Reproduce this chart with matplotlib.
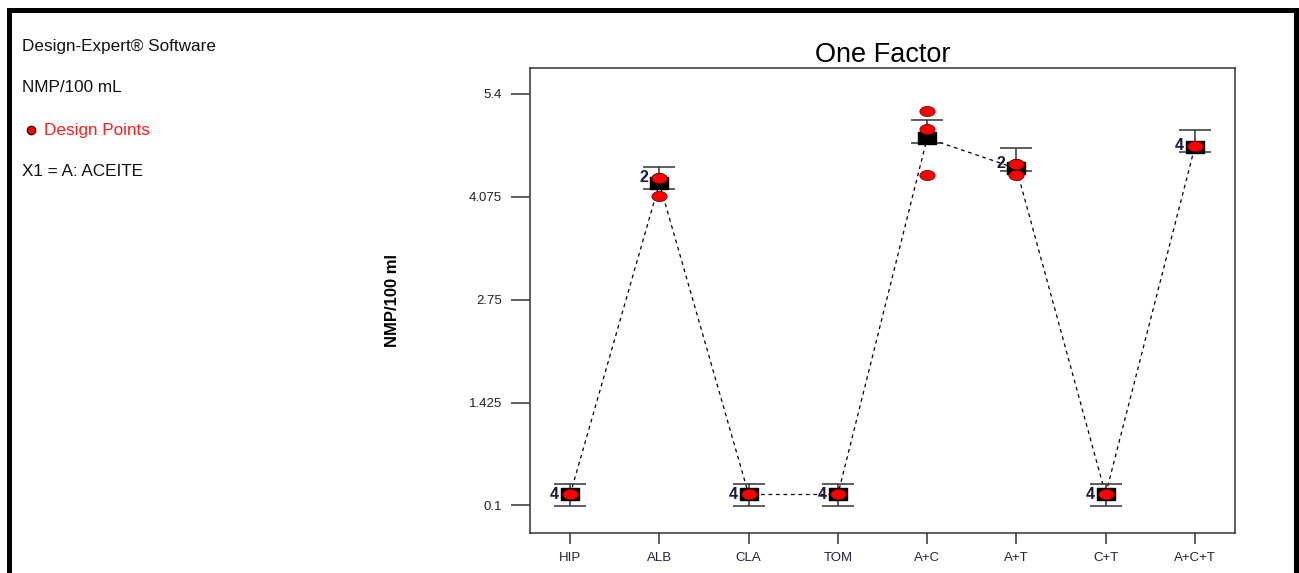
import matplotlib
matplotlib.use("Agg")
import matplotlib.pyplot as plt
from matplotlib.lines import Line2D
from matplotlib.path import Path
from matplotlib.transforms import Affine2D

plt.rcParams["font.family"] = ["Liberation Sans", "DejaVu Sans"]

# --- data ---
categories = ["HIP", "ALB", "CLA", "TOM", "A+C", "A+T", "C+T", "A+C+T"]
means = [0.24, 4.25, 0.24, 0.24, 4.83, 4.44, 0.24, 4.72]
lsd_low = [0.09, 4.18, 0.09, 0.09, 4.77, 4.41, 0.09, 4.65]
lsd_high = [0.38, 4.46, 0.38, 0.38, 5.06, 4.70, 0.38, 4.94]
design_points = [
    [0.24, 0.24, 0.24, 0.24],
    [4.32, 4.32, 4.09],
    [0.24, 0.24, 0.24, 0.24],
    [0.24, 0.24, 0.24, 0.24],
    [5.18, 4.95, 4.36],
    [4.50, 4.50, 4.35],
    [0.24, 0.24, 0.24, 0.24],
    [4.73, 4.73, 4.73, 4.73],
]
# (category index, value, count) for stacked points
point_counts = [(0, 0.24, 4), (1, 4.32, 2), (2, 0.24, 4), (3, 0.24, 4),
                (5, 4.50, 2), (6, 0.24, 4), (7, 4.73, 4)]
yticks = [0.1, 1.425, 2.75, 4.075, 5.4]
ytick_labels = ["0.1", "1.425", "2.75", "4.075", "5.4"]

W, H = 1299, 573
fig = plt.figure(figsize=(W / 100, H / 100), dpi=100)
ax = fig.add_axes([530 / W, 1 - 533 / H, 705 / W, 465 / H])

ellipse = Path.unit_circle().transformed(Affine2D().scale(1.5, 1.0))
box = Path([(-1.5, -1), (1.5, -1), (1.5, 1), (-1.5, 1), (-1.5, -1)],
           [Path.MOVETO, Path.LINETO, Path.LINETO, Path.LINETO, Path.CLOSEPOLY])

x = list(range(len(categories)))
ax.plot(x, means, color="black", lw=0.9, ls=(0, (3, 3)), zorder=1)

yerr = [[m - lo for m, lo in zip(means, lsd_low)],
        [hi - m for m, hi in zip(means, lsd_high)]]
ax.errorbar(x, means, yerr=yerr, fmt="none", ecolor="#333333",
            elinewidth=1.1, capsize=11.5, capthick=1.1, zorder=2)
ax.plot(x, means, ls="none", marker=box, markersize=12.5,
        color="black", zorder=3)

for i, pts in enumerate(design_points):
    ax.plot([i] * len(pts), pts, ls="none", marker=ellipse, markersize=11,
            markerfacecolor="red", markeredgecolor="#550000",
            markeredgewidth=0.5, zorder=4)

for i, v, n in point_counts:
    ax.annotate(str(n), (i, v), xytext=(-8, 0), textcoords="offset points",
                ha="right", va="center", fontsize=11.5, fontweight="bold",
                color="#1a1a3a", zorder=5)

ax.set_xlim(-0.45, 7.45)
ax.set_ylim(-0.256, 5.734)
ax.set_xticks(x)
ax.set_xticklabels(categories, fontsize=9.5, color="#222244")
ax.set_yticks(yticks)
ax.set_yticklabels(ytick_labels, fontsize=9.5, color="#222222")
ax.tick_params(axis="y", direction="out", length=14, width=1.1,
               color="#333333", pad=6)
ax.tick_params(axis="x", direction="out", length=8, width=1.1,
               color="#333333", pad=6)
for sp in ax.spines.values():
    sp.set_color("#333333")
    sp.set_linewidth(1.1)

ax.set_title("One Factor", fontsize=19.5, pad=2)
ax.set_ylabel("NMP/100 ml", fontsize=12, fontweight="bold", labelpad=50)

# left-hand info text
info = dict(fontsize=12.3, va="center", color="#111111")
fig.text(22 / W, 1 - 46 / H, "Design-Expert® Software", **info)
fig.text(22 / W, 1 - 88 / H, "NMP/100 mL", **info)
fig.add_artist(Line2D([31 / W], [1 - 130 / H], marker="o", markersize=6,
                      markerfacecolor="red", markeredgecolor="#550000",
                      transform=fig.transFigure))
fig.text(44 / W, 1 - 130 / H, "Design Points", fontsize=12.3, va="center",
         color="#ff2020")
fig.text(22 / W, 1 - 172 / H, "X1 = A: ACEITE", **info)

# black frame (bottom edge runs off the picture)
fr = dict(color="black", lw=3.6, transform=fig.transFigure,
          solid_capstyle="projecting")
fig.add_artist(Line2D([9 / W, 1296 / W], [1 - 10 / H, 1 - 10 / H], **fr))
fig.add_artist(Line2D([9 / W, 9 / W], [1 - 10 / H, 0], **fr))
fig.add_artist(Line2D([1296 / W, 1296 / W], [1 - 10 / H, 0], **fr))

fig.savefig("out.png", dpi=100)
